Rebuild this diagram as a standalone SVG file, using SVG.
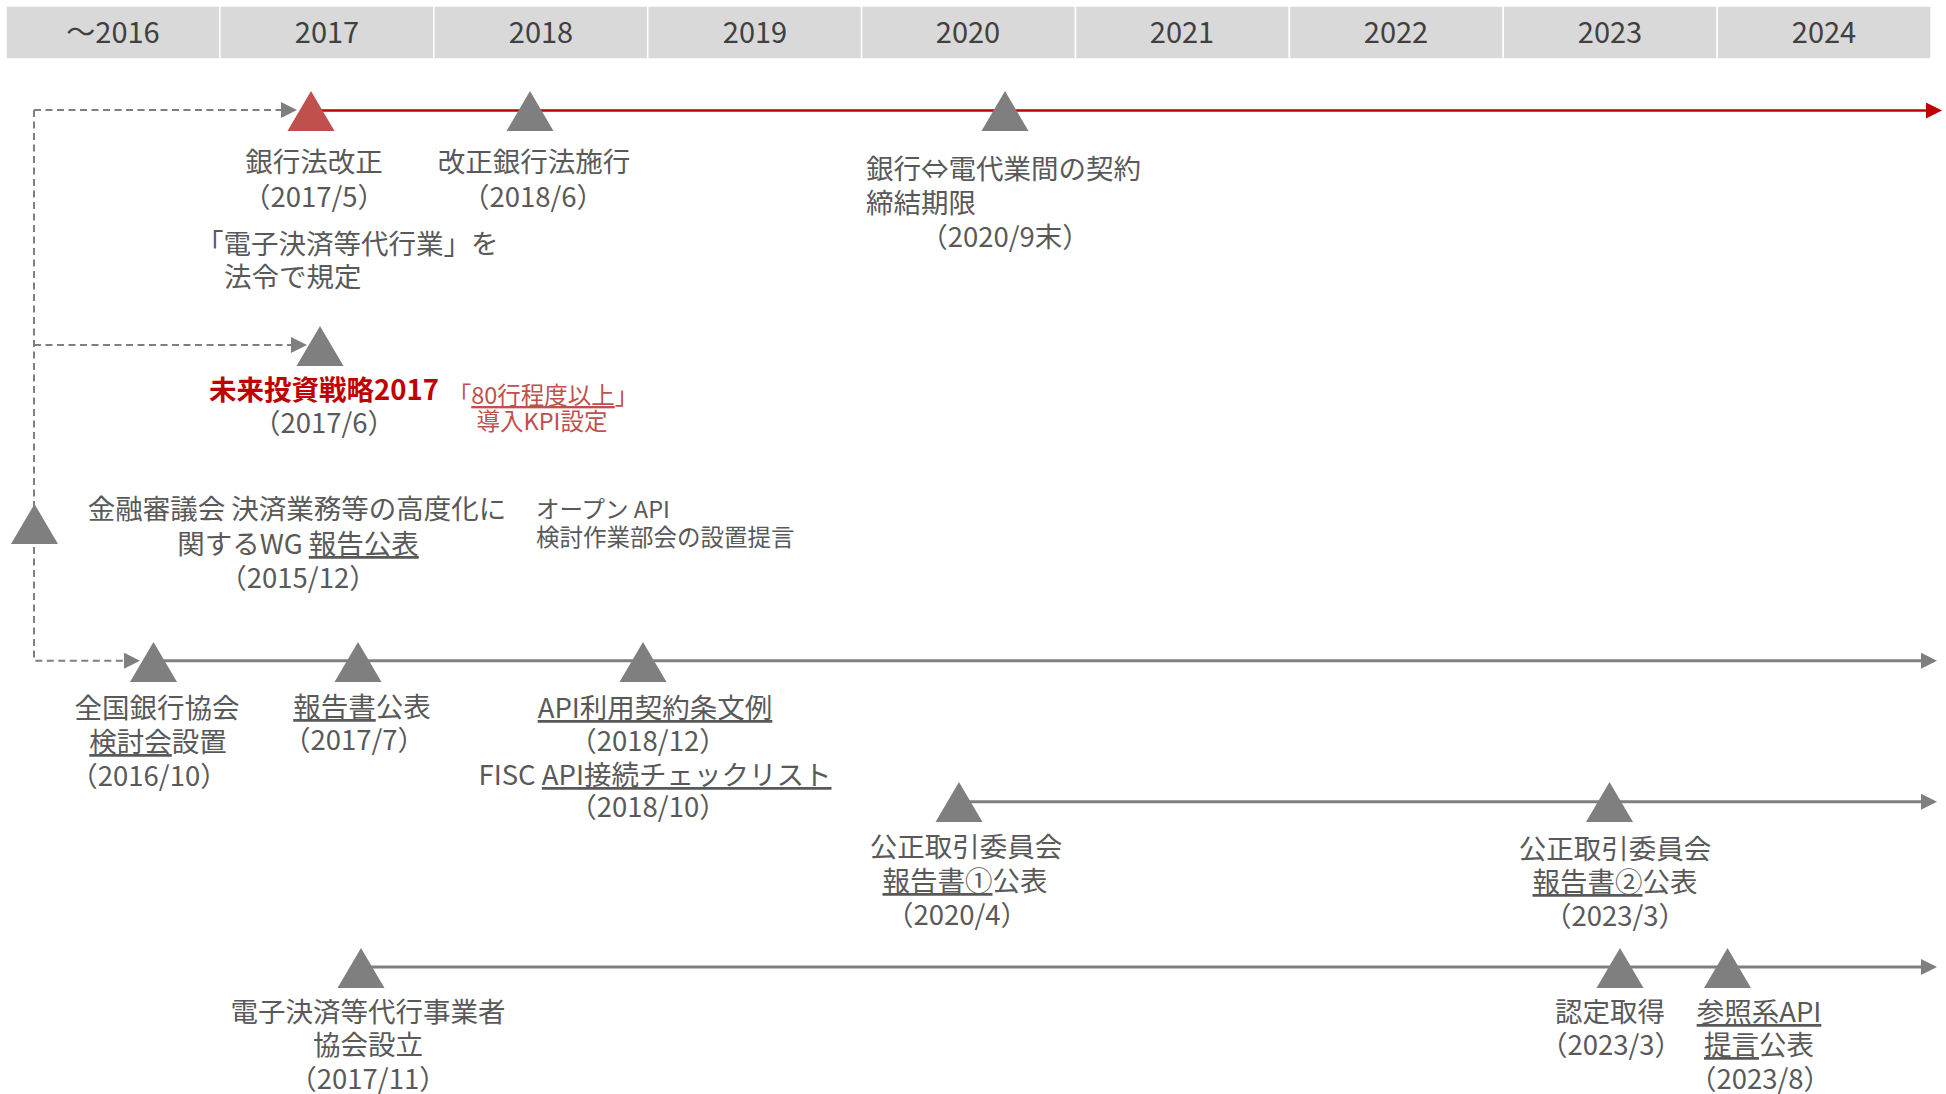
<svg xmlns="http://www.w3.org/2000/svg" width="1946" height="1094" viewBox="0 0 1946 1094">
<style>
text{font-family:"Noto Sans CJK JP","Noto Sans",sans-serif;fill:#595959;font-size:27.5px}
.hd{fill:#404040;font-size:29px;text-anchor:middle}
.c{text-anchor:middle}
.sm{font-size:23.5px}
.red{fill:#c00000;font-weight:700}
.pink{fill:#c0504d}
.u{text-decoration:underline}
.cell{fill:#d9d9d9;stroke:#fff;stroke-width:1.5}
.tri{fill:#7f7f7f}
.trir{fill:#c0504d}
.ln{fill:none;stroke:#7f7f7f;stroke-width:3}
.lnr{fill:none;stroke:#c00000;stroke-width:2.5}
.dsh{fill:none;stroke:#7f7f7f;stroke-width:2;stroke-dasharray:7 4.5}
</style>
<defs>
<marker id="ag" viewBox="0 0 16 16" markerWidth="16" markerHeight="16" refX="13" refY="8" markerUnits="userSpaceOnUse" orient="auto"><path d="M0,0L16,8L0,16z" fill="#7f7f7f"/></marker>
<marker id="ar" viewBox="0 0 16 16" markerWidth="16" markerHeight="16" refX="13" refY="8" markerUnits="userSpaceOnUse" orient="auto"><path d="M0,0L16,8L0,16z" fill="#c00000"/></marker>
</defs>
<g id="header">
<rect class="cell" x="6" y="6" width="213.9" height="53"/>
<rect class="cell" x="219.9" y="6" width="213.9" height="53"/>
<rect class="cell" x="433.8" y="6" width="213.9" height="53"/>
<rect class="cell" x="647.7" y="6" width="213.9" height="53"/>
<rect class="cell" x="861.6" y="6" width="213.9" height="53"/>
<rect class="cell" x="1075.5" y="6" width="213.9" height="53"/>
<rect class="cell" x="1289.4" y="6" width="213.9" height="53"/>
<rect class="cell" x="1503.3" y="6" width="213.9" height="53"/>
<rect class="cell" x="1717.2" y="6" width="213.9" height="53"/>
<text class="hd" x="113" y="43">～2016</text>
<text class="hd" x="327" y="43">2017</text>
<text class="hd" x="541" y="43">2018</text>
<text class="hd" x="755" y="43">2019</text>
<text class="hd" x="968" y="43">2020</text>
<text class="hd" x="1182" y="43">2021</text>
<text class="hd" x="1396" y="43">2022</text>
<text class="hd" x="1610" y="43">2023</text>
<text class="hd" x="1824" y="43">2024</text>
</g>
<g id="connectors">
<path class="lnr" d="M311,110.5H1939" marker-end="url(#ar)"/>
<path class="ln" d="M153,660.7H1934" marker-end="url(#ag)"/>
<path class="ln" d="M959,801.7H1934" marker-end="url(#ag)"/>
<path class="ln" d="M361,967H1934" marker-end="url(#ag)"/>
<path class="dsh" d="M34,110H294" marker-end="url(#ag)"/>
<path class="dsh" d="M34,345H304" marker-end="url(#ag)"/>
<path class="dsh" d="M34,110V660.7H137" marker-end="url(#ag)"/>
</g>
<g id="n-ginkouhou-kaisei">
<polygon class="trir" points="311,91 334.5,131 287.5,131"/>
<text class="c"><tspan x="314" y="172">銀行法改正</tspan><tspan x="314" y="207">（2017/5）</tspan></text>
<text><tspan x="196" y="254">「電子決済等代行業」を</tspan><tspan x="224" y="287">法令で規定</tspan></text>
</g>
<g id="n-kaisei-shikou">
<polygon class="tri" points="530,91 553.5,131 506.5,131"/>
<text class="c"><tspan x="534" y="172">改正銀行法施行</tspan><tspan x="533" y="207">（2018/6）</tspan></text>
</g>
<g id="n-keiyaku-kigen">
<polygon class="tri" points="1005,91 1028.5,131 981.5,131"/>
<text><tspan x="866" y="179">銀行⇔電代業間の契約</tspan><tspan x="866" y="213">締結期限</tspan><tspan x="1005" y="247" text-anchor="middle">（2020/9末）</tspan></text>
</g>
<g id="n-mirai-toushi">
<polygon class="tri" points="320,326 343.5,366 296.5,366"/>
<text class="c"><tspan x="324" y="400" class="red">未来投資戦略2017</tspan><tspan x="324" y="433">（2017/6）</tspan></text>
<text class="c sm pink"><tspan x="543" y="404">「<tspan class="u">80行程度以上</tspan>」</tspan><tspan x="542" y="430">導入KPI設定</tspan></text>
</g>
<g id="n-kinyu-shingikai">
<polygon class="tri" points="34.5,504 58,544 11,544"/>
<text class="c"><tspan x="297" y="519">金融審議会 決済業務等の高度化に</tspan><tspan x="298" y="554">関するWG <tspan class="u">報告公表</tspan></tspan><tspan x="298" y="588">（2015/12）</tspan></text>
<text class="sm"><tspan x="536" y="518">オープン API</tspan><tspan x="536" y="546">検討作業部会の設置提言</tspan></text>
</g>
<g id="n-zenginkyo">
<polygon class="tri" points="153.5,642 177,682 130,682"/>
<text class="c"><tspan x="157" y="718">全国銀行協会</tspan><tspan x="158" y="752"><tspan class="u">検討会</tspan>設置</tspan><tspan x="149" y="786">（2016/10）</tspan></text>
</g>
<g id="n-houkokusho-2017">
<polygon class="tri" points="358,642 381.5,682 334.5,682"/>
<text class="c"><tspan x="362" y="717"><tspan class="u">報告書</tspan>公表</tspan><tspan x="354" y="750">（2017/7）</tspan></text>
</g>
<g id="n-api-keiyaku">
<polygon class="tri" points="643,642 666.5,682 619.5,682"/>
<text class="c"><tspan x="655" y="718" class="u">API利用契約条文例</tspan><tspan x="648" y="751">（2018/12）</tspan><tspan x="655" y="785">FISC <tspan class="u">API接続チェックリスト</tspan></tspan><tspan x="648" y="817">（2018/10）</tspan></text>
</g>
<g id="n-kotori-1">
<polygon class="tri" points="959,782 982.5,822 935.5,822"/>
<text class="c"><tspan x="966" y="857">公正取引委員会</tspan><tspan x="965" y="891"><tspan class="u">報告書①</tspan>公表</tspan><tspan x="957" y="925">（2020/4）</tspan></text>
</g>
<g id="n-kotori-2">
<polygon class="tri" points="1609.5,782 1633,822 1586,822"/>
<text class="c"><tspan x="1615" y="859">公正取引委員会</tspan><tspan x="1615" y="892"><tspan class="u">報告書②</tspan>公表</tspan><tspan x="1615" y="926">（2023/3）</tspan></text>
</g>
<g id="n-dendaikyo">
<polygon class="tri" points="361,948 384.5,988 337.5,988"/>
<text class="c"><tspan x="368" y="1022">電子決済等代行事業者</tspan><tspan x="368" y="1055">協会設立</tspan><tspan x="368" y="1089">（2017/11）</tspan></text>
</g>
<g id="n-nintei">
<polygon class="tri" points="1620,948 1643.5,988 1596.5,988"/>
<text class="c"><tspan x="1610" y="1022">認定取得</tspan><tspan x="1611" y="1055">（2023/3）</tspan></text>
</g>
<g id="n-sanshou-api">
<polygon class="tri" points="1727.5,948 1751,988 1704,988"/>
<text class="c"><tspan x="1759" y="1022" class="u">参照系API</tspan><tspan x="1759" y="1055"><tspan class="u">提言</tspan>公表</tspan><tspan x="1760" y="1089">（2023/8）</tspan></text>
</g>
</svg>
